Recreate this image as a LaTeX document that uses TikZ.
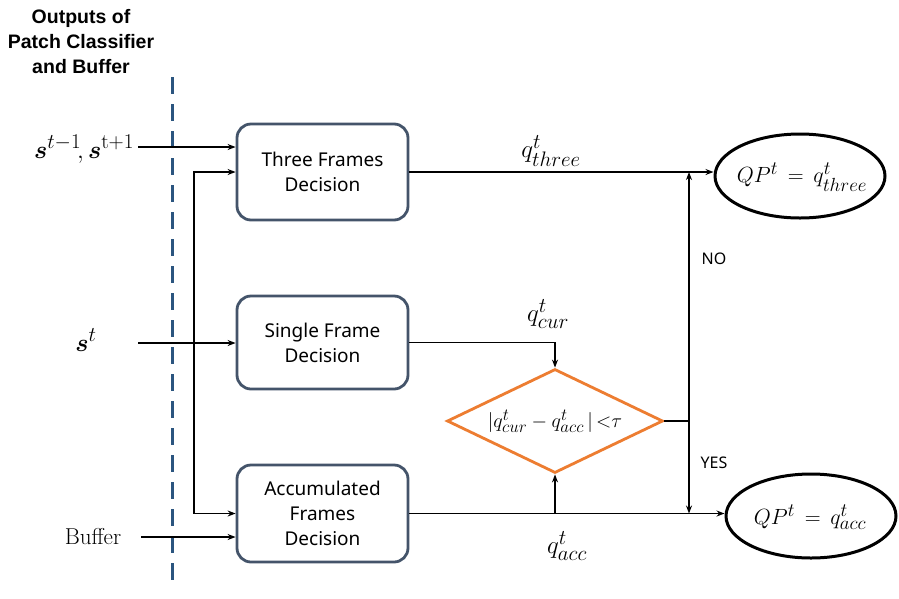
\RequirePackage{fix-cm}
\documentclass[tikz,border=0pt]{standalone}
\usepackage{fontspec}
\usepackage{amsmath,bm}
\setsansfont{Noto Sans}
\newfontfamily\titlefont{Liberation Sans}
\DeclareMathSizes{25}{25}{21}{16}
\DeclareMathSizes{22}{22}{19}{15}
\DeclareMathSizes{20}{20}{17}{13}
\usetikzlibrary{shapes.geometric,arrows.meta}
\definecolor{boxline}{HTML}{44546A}
\definecolor{orng}{HTML}{ED7D31}
\definecolor{dashblue}{HTML}{2B557F}
\tikzset{
  procbox/.style={draw=boxline,line width=2.8pt,rounded corners=14pt,fill=white,
    minimum width=171pt,align=center,font=\sffamily\fontsize{19}{25}\selectfont,inner sep=0pt},
  decbox/.style={diamond,draw=orng,line width=2.8pt,minimum width=216pt,minimum height=104pt,inner sep=0pt},
  dectext/.style={font=\fontsize{20}{22}\selectfont,inner sep=0pt},
  outell/.style={ellipse,draw=black,line width=3pt,inner sep=0pt},
  elltext/.style={font=\fontsize{22}{26}\selectfont,inner sep=0pt},
  arr/.style={line width=1.6pt,-{Stealth[length=8pt,width=6pt]}},
  plain/.style={line width=1.6pt},
  mathlbl/.style={font=\fontsize{25}{27}\selectfont,inner sep=0pt},
  sanslbl/.style={font=\sffamily\fontsize{16}{18}\selectfont,inner sep=0pt}
}
\begin{document}
\begin{tikzpicture}[x=1pt,y=-1pt]
\useasboundingbox[fill=white] (0,0) rectangle (899,598);
% title
\node[align=center,font=\titlefont\bfseries\fontsize{19.5}{25}\selectfont,inner sep=0pt] (title) at (81,42) {Outputs of\\Patch Classifier\\and Buffer};
% dashed divider
\coordinate (dtop) at (172,77);
\coordinate (dbot) at (172,582);
\draw[dashblue,line width=3pt,dash pattern=on 17pt off 10pt] (dtop) -- (dbot);
% boxes
\node[procbox,minimum height=96pt] (three) at (322.5,172) {Three Frames\\Decision};
\node[procbox,minimum height=93pt] (single) at (322.5,342.5) {Single Frame\\Decision};
\node[procbox,minimum height=97pt] (accum) at (322.5,513.5) {Accumulated\\Frames\\Decision};
% diamond
\node[decbox] (dia) at (555,421) {};
\node[dectext] (diat) at (dia.center) {$|q^t_{cur}-q^t_{acc}\,|\,{<}\tau$};
% ellipses
\node[outell,minimum width=170pt,minimum height=84pt] (e1) at (800,176) {};
\node[elltext] (e1t) at (802,177) {$QP^t\,=\,q^t_{three}$};
\node[outell,minimum width=170pt,minimum height=84pt] (e2) at (811,516) {};
\node[elltext] (e2t) at (810,517) {$QP^t\,=\,q^t_{acc}$};
% input labels
\node[mathlbl] (l1) at (84,149) {$\bm{s}^{t-1}\!,\bm{s}^{\mathrm{t+1}}$};
\node[mathlbl] (l2) at (86,340) {$\bm{s}^{t}$};
\node[font=\fontsize{23}{26}\selectfont,inner sep=0pt] (l3) at (93,537) {Buffer};
% inputs
\coordinate (in1) at (138,147);
\coordinate (in2) at (138,343);
\coordinate (in3) at (141,537);
\coordinate (j1) at (194,343);
\draw[arr] (in1) -- (in1 -| three.west);
\draw[arr] (in2) -- (in2 -| single.west);
\draw[arr] (in3) -- (in3 -| accum.west);
\draw[arr] (j1) |- (three.west);
\draw[arr] (j1) |- (accum.west);
% outputs
\draw[arr] (three.east) -- (three.east -| e1.west);
\draw[arr] (single.east) -| (dia.north);
\draw[arr] (accum.east) -- (accum.east -| e2.west);
\coordinate (j2) at (dia.south |- accum.east);
\draw[arr] (j2) -- (dia.south);
\coordinate (j3) at (689,421);
\draw[plain] (dia.east) -- (j3);
\draw[arr] (j3) -- (j3 |- three.east);
\draw[arr] (j3) -- (j3 |- accum.east);
% labels
\node[mathlbl] (q1) at (551,151) {$q^t_{three}$};
\node[mathlbl] (q2) at (548,314) {$q^t_{cur}$};
\node[mathlbl] (q3) at (567,546) {$q^t_{acc}$};
\node[sanslbl] (no) at (714,259) {NO};
\node[sanslbl] (yes) at (714,463) {YES};
\end{tikzpicture}
\end{document}
